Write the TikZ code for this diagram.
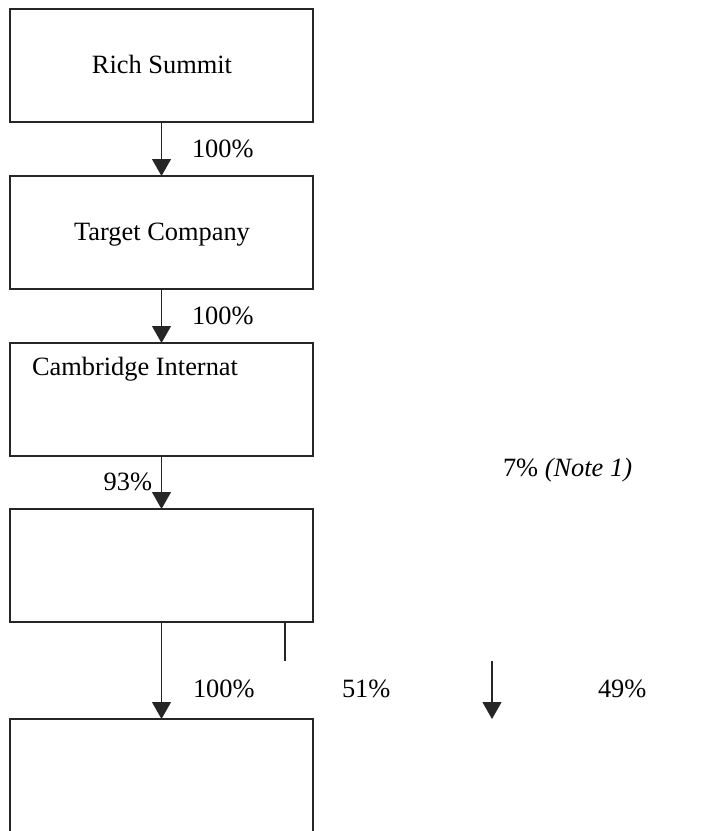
\documentclass[tikz,border=0pt]{standalone}
\usepackage{fontspec}
\setmainfont{Liberation Serif}
\usetikzlibrary{arrows.meta}
\tikzset{
  box/.style={draw=black!85, line width=1.2pt, minimum width=303pt, minimum height=113pt, inner sep=0pt, outer sep=0pt},
  lbl/.style={inner sep=0pt, outer sep=0pt, font=\fontsize{26.4}{30}\selectfont},
  conn/.style={draw=black!85, line width=1.2pt},
  arr/.style={conn, -{Triangle[width=19pt,length=17pt]}},
}
\begin{document}
\begin{tikzpicture}[x=1pt,y=-1pt]
\useasboundingbox (0,0) rectangle (706,831);
\clip (0,0) rectangle (706,831);
\node[box] (b1) at (161.5,65.5) {};
\node[box] (b2) at (161.5,232.5) {};
\node[box] (b3) at (161.5,399.5) {};
\node[box] (b4) at (161.5,565.5) {};
\node[box, minimum height=160pt] (b5) at (161.5,799) {};
% texts
\node[lbl, anchor=base] (t1) at (162,73) {Rich Summit};
\node[lbl, anchor=base] (t2) at (162,240) {Target Company};
\node[lbl, anchor=base west] (t3) at (32,375) {Cambridge Internat};
% connectors
\draw[arr] (b1.south) -- (b2.north);
\draw[arr] (b2.south) -- (b3.north);
\draw[arr] (b3.south) -- (b4.north);
\draw[arr] (b4.south) -- (b5.north);
\coordinate (s1) at (285,622);
\coordinate (s2) at (285,661);
\draw[conn] (s1) -- (s2);
\coordinate (a1) at (492,661);
\coordinate (a2) at (492,719);
\draw[arr] (a1) -- (a2);
% labels
\node[lbl, anchor=base west] (p1) at (192,157) {100\%};
\node[lbl, anchor=base west] (p2) at (192,324) {100\%};
\node[lbl, anchor=base east] (p3) at (152,490) {93\%};
\node[lbl, anchor=base west] (p4) at (503,476) {7\% \textit{(Note 1)}};
\node[lbl, anchor=base west] (p5) at (193,697) {100\%};
\node[lbl, anchor=base west] (p6) at (342,697) {51\%};
\node[lbl, anchor=base west] (p7) at (598,697) {49\%};
\end{tikzpicture}
\end{document}
